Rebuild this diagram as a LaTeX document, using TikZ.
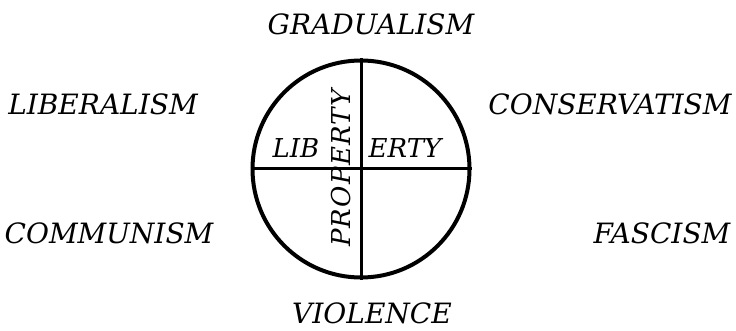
\documentclass[tikz,border=0pt]{standalone}
\usepackage{fontspec}
\setmainfont{DejaVu Serif}
\usepackage{tikz}
\tikzset{
  ism/.style={font=\fontsize{28}{28}\selectfont\itshape, inner sep=0pt},
  inword/.style={font=\fontsize{26}{26}\selectfont\itshape, inner sep=0pt}
}

\begin{document}
\begin{tikzpicture}[x=1pt, y=-1pt]
\useasboundingbox (0,0) rectangle (736,331);
\node[draw, circle, line width=4pt, minimum size=217pt, inner sep=0pt] (disk) at (361,169) {};
\draw[line width=3pt] (disk.north) -- (disk.south);
\draw[line width=3pt] (disk.west) -- (disk.east);

\node[inword, anchor=base] (lib) at (296,158) {LIB};
\node[inword, anchor=base] (erty) at (405,158) {ERTY};
\node[inword, anchor=base, rotate=90] (property) at (350,168)
  {\addfontfeature{LetterSpace=5}PROPERTY};

\node[ism] (gradualism) at (371,24) {GRADUALISM};
\node[ism] (violence) at (372,313) {VIOLENCE};
\node[ism] (liberalism) at (103,104) {LIBERALISM};
\node[ism] (conservatism) at (610,104) {CONSERVATISM};
\node[ism] (communism) at (109,233) {COMMUNISM};
\node[ism] (fascism) at (662,233) {FASCISM};
\end{tikzpicture}
\end{document}
